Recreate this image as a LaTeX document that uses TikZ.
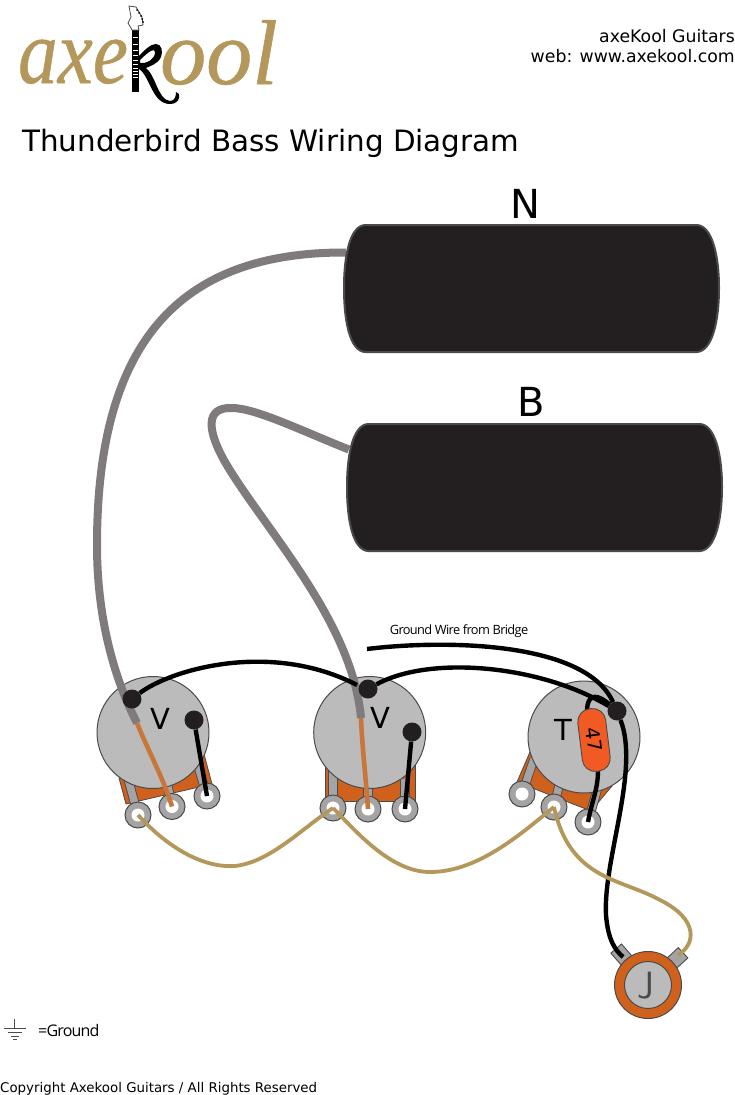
\documentclass[tikz,border=0pt]{standalone}
\usepackage{fontspec}
\setmainfont{DejaVu Sans}
\newfontfamily\logofont[FakeBold=0.6]{Liberation Serif}
\newfontfamily\tightfont[LetterSpace=-5]{Open Sans}
\definecolor{gold}{HTML}{B4975A}
\definecolor{wiregrey}{HTML}{7F7A7B}
\definecolor{potgrey}{HTML}{BBBBBB}
\definecolor{luggrey}{HTML}{A5A3A4}
\definecolor{edge}{HTML}{4A4A4A}
\definecolor{rust}{HTML}{D0611C}
\definecolor{capred}{HTML}{F15A22}
\definecolor{copper}{HTML}{C8763A}
\definecolor{pickupblack}{HTML}{231F20}
\tikzset{
  pot/.style={circle,draw=edge,fill=potgrey,line width=1pt,minimum size=112pt,inner sep=0pt},
  lug/.style={circle,draw=edge,fill=luggrey,line width=1pt,minimum size=26pt,inner sep=0pt},
  strip/.style={draw=edge,double=luggrey,line width=0.9pt,double distance=7.5pt},
  base/.style={draw=edge,fill=rust,line width=0.8pt},
  dot/.style={circle,fill=pickupblack,minimum size=19pt,inner sep=0pt},
  blackwire/.style={black,line width=4.4pt},
  goldwire/.style={gold,line width=3.8pt},
  greywire/.style={wiregrey,line width=8pt},
  copperwire/.style={copper,line width=4.6pt},
  pickup/.style={draw=none,minimum width=375pt,minimum height=127pt,inner sep=0pt},
  pickupbody/.style={fill=pickupblack,draw=edge,line width=2pt},
  jacklug/.style={draw=edge,fill=luggrey,line width=0.9pt,minimum width=33pt,minimum height=14pt,inner sep=0pt},
  potlabel/.style={font=\fontsize{29}{32}\selectfont,inner sep=0pt},
  logotext/.style={text=gold,font=\logofont\itshape\fontsize{92}{92}\selectfont,anchor=base west,inner sep=0pt},
}
\begin{document}
\begin{tikzpicture}[x=1pt,y=-1pt]
  \useasboundingbox (0,0) rectangle (735,1095);
  \fill[white] (0,0) rectangle (735,1095);

  \node[logotext,xscale=0.86,transform shape] (logoa) at (18,83) {axe};
  \node[logotext] (logob) at (160,84) {ool};
  \fill[black] (132,30) rectangle (139,92);
  \draw[edge,fill=white,line width=0.8pt] (132,30) -- (131,28) -- (128,23) -- (131,17) -- (129,6) -- (136,7) -- (142,17) -- (143,25) -- (138,26) -- (139,30) -- cycle;
  \foreach \x/\y in {137/10,139/13,141/16,142/19,143/22}
    \fill[black] (\x,\y) circle (1);
  \foreach \y in {37,44,50,55,60,64,68,71,74,77}
    \draw[white,line width=0.9pt] (133,\y) -- (138,\y);
  \fill[black,even odd rule] (139,56) .. controls (145,50) and (150,44) .. (156,44) .. controls (162,44) and (163,52) .. (161,57) .. controls (158,64) and (150,66) .. (146,68) .. controls (156,76) and (158,100) .. (170,101) .. controls (175,101) and (176,96) .. (176,92) .. controls (181,92) and (181,104) .. (170,104) .. controls (152,104) and (150,76) .. (139,69) -- cycle (140,63) .. controls (146,64) and (155,60) .. (155,52) .. controls (155,48) and (150,50) .. (140,60) -- cycle;

  \node[anchor=base east,inner sep=0pt,font=\fontsize{17.3}{19}\selectfont] (company) at (735,42) {axeKool Guitars};
  \node[anchor=base east,inner sep=0pt,font=\fontsize{17.3}{19}\selectfont] (web) at (735,62) {web: www.axekool.com};
  \node[anchor=base west,inner sep=0pt,font=\fontsize{29.4}{32}\selectfont] (title) at (22,151) {Thunderbird Bass Wiring Diagram};

  \node[font=\fontsize{40}{44}\selectfont,inner sep=0pt] (nlabel) at (525,204) {N};
  \node[font=\fontsize{40}{44}\selectfont,inner sep=0pt] (blabel) at (531,402) {B};

  \draw[base] (119,778) -- (126,804) -- (212,784) -- (204,754) -- cycle;
  \draw[base] (325,765) -- (325,801) -- (415,801) -- (415,765) -- cycle;
  \draw[base] (530,752) -- (517,782) -- (591,811) -- (612,786) -- cycle;

  \foreach \n/\x/\y in {la/138/815,lb/172/806.5,lc/207/796,ld/333/808,le/368/809,lf/405/809,lg/522/794,lh/554/807,li/588/822} {
    \coordinate (\n) at (\x,\y);
  }
  \draw[strip] (la) -- ++(-11,-40);
  \draw[strip] (lb) -- ++(-6,-30);
  \draw[strip] (lc) -- ++(-9,-30);
  \draw[strip] (ld) -- ++(0,-40);
  \draw[strip] (le) -- ++(0,-30);
  \draw[strip] (lf) -- ++(0,-30);
  \draw[strip] (lg) -- ++(12,-35);
  \draw[strip] (lh) -- ++(7,-30);
  \draw[strip] (li) -- ++(10,-35);

  \node[pot] (pota) at (153,732.5) {};
  \node[pot] (potb) at (369.7,732.5) {};
  \node[pot] (potc) at (584,737) {};

  \foreach \n/\x/\y in {la/138/815,lb/172/806.5,lc/207/796,ld/333/808,le/368/809,lf/405/809,lg/522/794,lh/554/807,li/588/822} {
    \node[lug] (\n) at (\x,\y) {};
    \fill[white] (\n) circle (6.5);
  }

  \node[potlabel] (va) at (160,719) {V};
  \node[potlabel] (vb) at (380,718) {V};
  \node[potlabel] (tc) at (563,730) {T};

  \coordinate (neckend) at (137,723);
  \coordinate (bridgeend) at (361,718);
  \node[pickup] (neck) at (531.5,288.5) {};
  \node[pickup] (bridge) at (534.5,487.5) {};
  \draw[greywire] (neck.west) ++(2,-36) .. controls (190,252) and (97,330) .. (97,545) .. controls (97,620) and (115,680) .. (neckend);
  \draw[greywire] (bridge.west) ++(2,-38) .. controls (300,430) and (255,408) .. (232,408) .. controls (205,407) and (207,430) .. (225,462) .. controls (265,530) and (352,620) .. (bridgeend);

  \foreach \x in {0,1}
    \draw[pickupbody] (365+3*\x,225+199*\x) -- (697+3*\x,225+199*\x) .. controls (712+3*\x,226+199*\x) and (719+3*\x,255+199*\x) .. (719+3*\x,288+199*\x) .. controls (719+3*\x,322+199*\x) and (712+3*\x,351+199*\x) .. (697+3*\x,352+199*\x) -- (365+3*\x,352+199*\x) .. controls (350+3*\x,351+199*\x) and (344+3*\x,322+199*\x) .. (344+3*\x,288+199*\x) .. controls (344+3*\x,255+199*\x) and (350+3*\x,226+199*\x) .. (365+3*\x,225+199*\x) -- cycle;

  \draw[copperwire] (neckend) .. controls (150,755) and (162,775) .. (lb.center);
  \draw[copperwire] (bridgeend) .. controls (362,745) and (366,780) .. (le.center);

  \node[dot] (dota) at (132,699) {};
  \node[dot] (dotb) at (194,720) {};
  \node[dot] (dotc) at (368,689) {};
  \node[dot] (dotd) at (412,732) {};
  \node[dot] (dote) at (617,711) {};

  \node[jacklug,rotate=-49] (jacka) at (627,961) {};
  \node[jacklug,rotate=43] (jackb) at (671,964) {};
  \node[circle,draw=edge,fill=rust,line width=1pt,minimum size=67pt,inner sep=0pt] (jackring) at (648,985) {};
  \node[circle,draw=edge,fill=potgrey,line width=1pt,minimum size=47pt,inner sep=0pt] (jack) at (648,985) {};
  \node[text=edge,inner sep=0pt,font=\fontsize{38}{40}\selectfont\sffamily] (jlabel) at (646,986) {J};
  \coordinate (pina) at (623,957);
  \coordinate (pinb) at (678,955);

  \draw[blackwire] (dota) .. controls (170,670) and (270,640) .. (357,685);
  \draw[blackwire] (dotc) .. controls (430,655) and (540,665) .. (dote);
  \draw[blackwire] (367,649) .. controls (440,640) and (585,640) .. (dote);
  \draw[blackwire] (dote) .. controls (600,696) and (587,690) .. (587,712);
  \draw[blackwire] (dote) .. controls (640,770) and (603,860) .. (606,915) .. controls (608,940) and (615,950) .. (pina);
  \draw[blackwire] (dotb) -- (lc.center);
  \draw[blackwire] (dotd) -- (lf.center);
  \draw[blackwire] (598,770) .. controls (598,790) and (592,800) .. (li.center);

  \node[draw=edge,fill=capred,line width=0.9pt,rotate=-83,rounded corners=13pt,minimum width=63pt,minimum height=28pt,inner sep=0pt,font=\fontsize{19}{20}\selectfont] (cap) at (594,740) {47};

  \draw[goldwire] (la.center) .. controls (170,850) and (205,868) .. (235,866) .. controls (270,862) and (300,830) .. (ld.center);
  \draw[goldwire] (ld.center) .. controls (355,830) and (390,872) .. (430,872) .. controls (480,872) and (525,830) .. (lh.center);
  \draw[goldwire] (lh.center) .. controls (570,880) and (620,878) .. (660,900) .. controls (700,920) and (695,945) .. (pinb);

  \node[inner sep=0pt,font=\tightfont\fontsize{12.8}{14}\selectfont] (groundwire) at (459,631) {Ground Wire from Bridge};

  \coordinate (gnd) at (14.5,1019);
  \draw[edge,line width=0.8pt] (gnd) -- ++(0,9) ++(-11,0) -- ++(22,0) ++(-18,4) -- ++(14,0) ++(-11,4) -- ++(8,0) ++(-6,3) -- ++(4,0);
  \node[anchor=base west,inner sep=0pt,font=\tightfont\fontsize{16}{18}\selectfont] (ground) at (38,1036) {=Ground};
  \node[anchor=base west,inner sep=0pt,font=\fontsize{13.37}{15}\selectfont] (copyright) at (0,1092) {Copyright Axekool Guitars / All Rights Reserved};
\end{tikzpicture}
\end{document}
